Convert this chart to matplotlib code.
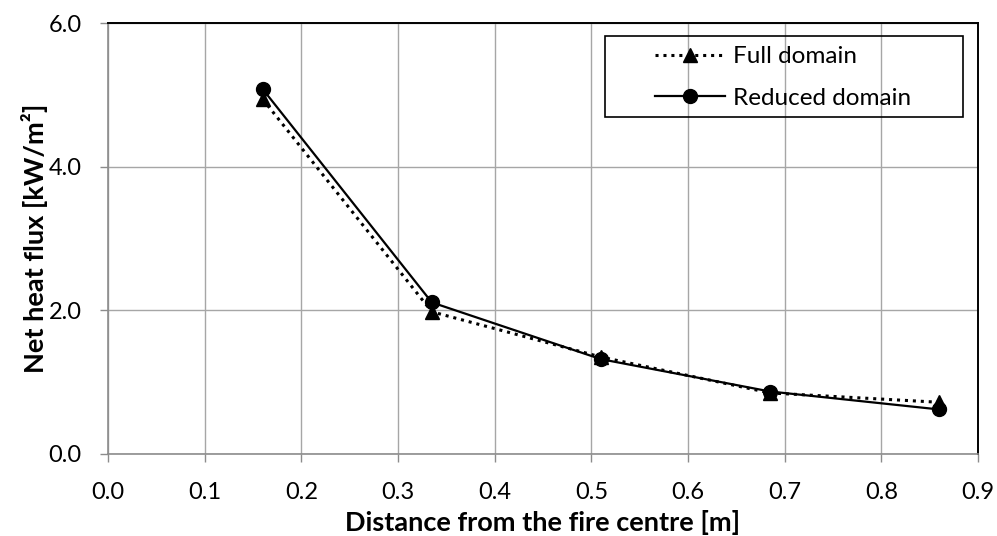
import matplotlib
matplotlib.use("Agg")
import matplotlib.pyplot as plt
from matplotlib.patches import Rectangle
from matplotlib.ticker import MultipleLocator, FormatStrFormatter

plt.rcParams['font.family'] = ['Lato', 'DejaVu Sans']

distance = [0.16, 0.335, 0.51, 0.685, 0.86]
full_domain = [4.94, 1.98, 1.35, 0.85, 0.72]
reduced_domain = [5.08, 2.11, 1.32, 0.87, 0.62]

W, H = 997, 536
fig = plt.figure(figsize=(W/100, H/100), dpi=100)
ax = fig.add_axes([108/W, 1-454/H, (978-108)/W, (454-23)/H])

ax.plot(distance, full_domain, linestyle=(0, (1, 1.6)), color='black', lw=2.2,
        marker='^', markersize=10, label='Full domain')
ax.plot(distance, reduced_domain, linestyle='-', color='black', lw=1.6,
        marker='o', markersize=10, label='Reduced domain')

ax.set_xlim(0, 0.9)
ax.set_ylim(0, 6)
ax.xaxis.set_major_locator(MultipleLocator(0.1))
ax.yaxis.set_major_locator(MultipleLocator(2.0))
ax.xaxis.set_major_formatter(FormatStrFormatter('%.1f'))
ax.yaxis.set_major_formatter(FormatStrFormatter('%.1f'))
ax.grid(True, color='#a6a6a6', lw=1.0)
ax.set_axisbelow(True)

for s in ['left', 'bottom']:
    ax.spines[s].set_color('#8c8c8c')
    ax.spines[s].set_linewidth(1.2)
for s in ['top', 'right']:
    ax.spines[s].set_color('black')
    ax.spines[s].set_linewidth(1.4)

ax.tick_params(axis='both', direction='out', length=6, width=1.0, color='#8c8c8c',
               labelsize=17, labelcolor='black')
ax.tick_params(axis='x', pad=14)
ax.tick_params(axis='y', pad=13)

ax.set_xlabel('Distance from the fire centre [m]', fontsize=19.5, fontweight='bold', labelpad=5)
ax.set_ylabel('Net heat flux [kW/m²]', fontsize=19.5, fontweight='bold', labelpad=0)

fs = 17.5
fs_px = fs * 100 / 72
leg = ax.legend(loc='upper left', bbox_to_anchor=(655/W, 1-46/H),
                bbox_transform=fig.transFigure, fontsize=fs, frameon=False,
                handlelength=70/fs_px, handletextpad=8/fs_px,
                borderpad=0, labelspacing=0.86, borderaxespad=0)
fig.patches.append(Rectangle((605/W, 1-117/H), (963-605)/W, (117-36)/H,
                             transform=fig.transFigure, fill=False,
                             edgecolor='black', lw=1.2, zorder=5))

fig.savefig('out.png', dpi=100, facecolor='white')
